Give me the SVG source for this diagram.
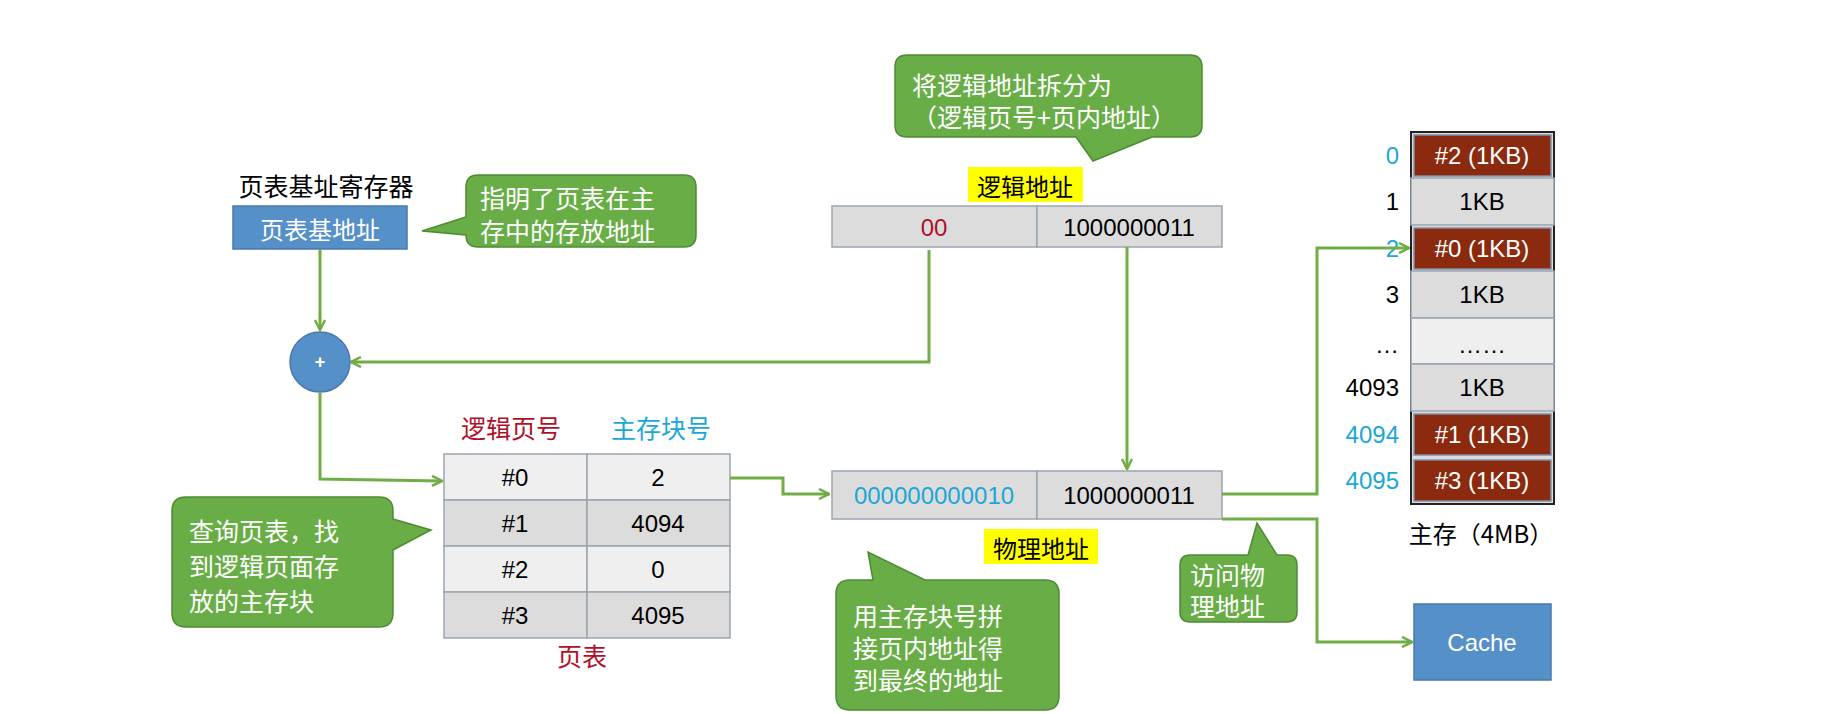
<svg xmlns="http://www.w3.org/2000/svg" width="1826" height="714" viewBox="0 0 1826 714">
<defs>
<marker id="ah" viewBox="0 0 12 12" refX="11" refY="6" markerWidth="12" markerHeight="12" markerUnits="userSpaceOnUse" orient="auto"><path d="M1,1 L11,6 L1,11" fill="none" stroke="#70ad47" stroke-width="2.5"/></marker>
</defs>
<style>
text{font-family:"Liberation Sans","Noto Sans CJK SC",sans-serif;dominant-baseline:central;text-anchor:middle}
.cn{font-family:"Noto Sans CJK SC",sans-serif}
.call{fill:#68ad45;stroke:#4e8a34;stroke-width:1.5}
.callt{fill:#fff;font-size:25px;text-anchor:start}
.cell{stroke:#9aa5b1;stroke-width:1.5}
.lt{fill:#efefef}.dk{fill:#dcdcdc}
.red{fill:#8b2a0e;stroke:#7f8ea8;stroke-width:1.5}
.con{fill:none;stroke:#70ad47;stroke-width:3}
.t{font-size:24px;fill:#000}
.w{fill:#fff}
.cy{fill:#1aa7d8}
.rd{fill:#b0102a}
</style>
<rect width="1826" height="714" fill="#fff"/>

<g id="reg">
<text class="cn" x="326" y="185" font-size="25">页表基址寄存器</text>
<rect x="233" y="206" width="174" height="43" fill="#5590c8" stroke="#4a78aa" stroke-width="1.5"/>
<text class="cn w" x="320" y="228" font-size="24">页表基地址</text>
</g>

<g id="callout1">
<path class="call" d="M478,175 H684 Q696,175 696,187 V235 Q696,247 684,247 H478 Q466,247 466,235 V235 L422,231 L466,217 V187 Q466,175 478,175 Z"/>
<text class="callt cn" x="480" y="197">指明了页表在主</text>
<text class="callt cn" x="480" y="230">存中的存放地址</text>
</g>

<g id="callout2">
<path class="call" d="M907,55 H1190 Q1202,55 1202,67 V125 Q1202,137 1190,137 H1152 L1093,161 L1076,137 H907 Q895,137 895,125 V67 Q895,55 907,55 Z"/>
<text class="callt cn" x="912" y="84">将逻辑地址拆分为</text>
<text class="callt cn" x="912" y="116">（逻辑页号+页内地址）</text>
</g>

<g id="logical">
<rect x="968" y="167" width="115" height="35" fill="#ffff00"/>
<text class="cn" x="1025" y="185" font-size="24">逻辑地址</text>
<rect class="cell dk" x="832" y="206" width="205" height="41"/>
<rect class="cell dk" x="1037" y="206" width="185" height="41"/>
<text class="t rd" x="934" y="227">00</text>
<text class="t" x="1129" y="227">1000000011</text>
</g>

<g id="adder">
<circle cx="320" cy="362" r="30" fill="#5590c8" stroke="#4a78aa" stroke-width="1.5"/>
<text class="w" x="320" y="362" font-size="18" font-weight="bold">+</text>
</g>

<g id="pagetable">
<text class="cn rd" x="511" y="427" font-size="25">逻辑页号</text>
<text class="cn cy" x="661" y="427" font-size="25">主存块号</text>
<rect class="cell lt" x="444" y="454" width="143" height="46"/><rect class="cell lt" x="587" y="454" width="143" height="46"/>
<rect class="cell dk" x="444" y="500" width="143" height="46"/><rect class="cell dk" x="587" y="500" width="143" height="46"/>
<rect class="cell lt" x="444" y="546" width="143" height="46"/><rect class="cell lt" x="587" y="546" width="143" height="46"/>
<rect class="cell dk" x="444" y="592" width="143" height="46"/><rect class="cell dk" x="587" y="592" width="143" height="46"/>
<text class="t" x="515" y="477">#0</text><text class="t" x="658" y="477">2</text>
<text class="t" x="515" y="523">#1</text><text class="t" x="658" y="523">4094</text>
<text class="t" x="515" y="569">#2</text><text class="t" x="658" y="569">0</text>
<text class="t" x="515" y="615">#3</text><text class="t" x="658" y="615">4095</text>
<text class="cn rd" x="582" y="655" font-size="25">页表</text>
</g>

<g id="callout3">
<path class="call" d="M186,497 H379 Q393,497 393,511 V519 L431,530 L393,550 V613 Q393,627 379,627 H186 Q172,627 172,613 V511 Q172,497 186,497 Z"/>
<text class="callt cn" x="189" y="530">查询页表，找</text>
<text class="callt cn" x="189" y="565">到逻辑页面存</text>
<text class="callt cn" x="189" y="600">放的主存块</text>
</g>

<g id="physical">
<rect class="cell dk" x="832" y="471" width="205" height="48"/>
<rect class="cell dk" x="1037" y="471" width="185" height="48"/>
<text class="t cy" x="934" y="495">000000000010</text>
<text class="t" x="1129" y="495">1000000011</text>
<rect x="984" y="529" width="114" height="35" fill="#ffff00"/>
<text class="cn" x="1041" y="547" font-size="24">物理地址</text>
</g>

<g id="callout4">
<path class="call" d="M850,580 H873 L868,552 L925,580 H1045 Q1059,580 1059,594 V696 Q1059,710 1045,710 H850 Q836,710 836,696 V594 Q836,580 850,580 Z"/>
<text class="callt cn" x="853" y="615">用主存块号拼</text>
<text class="callt cn" x="853" y="647">接页内地址得</text>
<text class="callt cn" x="853" y="679">到最终的地址</text>
</g>

<g id="callout5">
<path class="call" d="M1190,555 H1248 L1257,523 L1277,555 H1287 Q1297,555 1297,565 V612 Q1297,622 1287,622 H1190 Q1180,622 1180,612 V565 Q1180,555 1190,555 Z"/>
<text class="callt cn" x="1190" y="574" font-size="24">访问物</text>
<text class="callt cn" x="1190" y="605" font-size="24">理地址</text>
</g>

<g id="memory">
<rect x="1411" y="132" width="143" height="372" fill="#dcdcdc" stroke="#222" stroke-width="2"/>
<rect class="red" x="1414" y="135" width="137" height="41"/>
<rect class="cell dk" x="1411" y="178" width="143" height="47"/>
<rect class="red" x="1414" y="228" width="137" height="41"/>
<rect class="cell dk" x="1411" y="271" width="143" height="47"/>
<rect class="cell lt" x="1411" y="318" width="143" height="46"/>
<rect class="cell dk" x="1411" y="364" width="143" height="47"/>
<rect class="red" x="1414" y="414" width="137" height="41"/>
<rect class="red" x="1414" y="460" width="137" height="41"/>
<text class="t w" x="1482" y="155">#2 (1KB)</text>
<text class="t" x="1482" y="201">1KB</text>
<text class="t w" x="1482" y="248">#0 (1KB)</text>
<text class="t" x="1482" y="294">1KB</text>
<text class="t" x="1482" y="344">……</text>
<text class="t" x="1482" y="387">1KB</text>
<text class="t w" x="1482" y="434">#1 (1KB)</text>
<text class="t w" x="1482" y="480">#3 (1KB)</text>
<text class="t cy" x="1399" y="155" style="text-anchor:end">0</text>
<text class="t" x="1399" y="201" style="text-anchor:end">1</text>
<text class="t cy" x="1399" y="248" style="text-anchor:end">2</text>
<text class="t" x="1399" y="294" style="text-anchor:end">3</text>
<text class="t" x="1399" y="344" style="text-anchor:end">…</text>
<text class="t" x="1399" y="387" style="text-anchor:end">4093</text>
<text class="t cy" x="1399" y="434" style="text-anchor:end">4094</text>
<text class="t cy" x="1399" y="480" style="text-anchor:end">4095</text>
<text class="cn" x="1481" y="532" font-size="24">主存（4MB）</text>
</g>

<g id="cache">
<rect x="1414" y="604" width="137" height="76" fill="#5590c8" stroke="#4a78aa" stroke-width="1.5"/>
<text class="w" x="1482" y="642" font-size="24">Cache</text>
</g>

<g id="connectors">
<path class="con" d="M320,249 V330" marker-end="url(#ah)"/>
<path class="con" d="M929,250 V362 H351" marker-end="url(#ah)"/>
<path class="con" d="M1127,247 V469" marker-end="url(#ah)"/>
<path class="con" d="M320,393 V479 L442,481" marker-end="url(#ah)"/>
<path class="con" d="M730,478 H783 V494 H829" marker-end="url(#ah)"/>
<path class="con" d="M1222,494 H1317 V248 H1409" marker-end="url(#ah)"/>
<path class="con" d="M1222,519 H1317 V642 H1412" marker-end="url(#ah)"/>
</g>
</svg>
